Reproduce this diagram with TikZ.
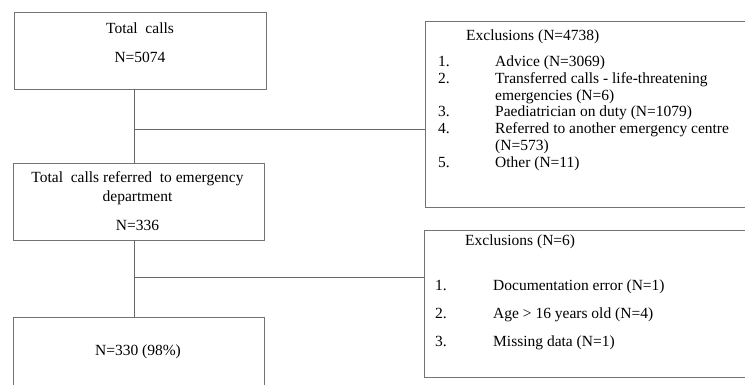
\documentclass[tikz,border=0pt]{standalone}
\usepackage{fontspec}
\setmainfont{Liberation Serif}
\begin{document}
\begin{tikzpicture}[x=1pt,y=-1pt,
  box/.style={draw=black!55,line width=0.9pt,rectangle,inner sep=0pt},
  conn/.style={draw=black!60,line width=0.9pt},
  txt/.style={inner sep=0pt,text=black,font=\fontsize{15.5}{17}\selectfont},
  lft/.style={txt,anchor=base west},
  ctr/.style={txt,anchor=base}]
\useasboundingbox (0,0) rectangle (745,385);
\clip (0,0) rectangle (745,385);
% boxes
\node[box,minimum width=252pt,minimum height=77pt] (b1) at (140,50.5) {};
\node[box,minimum width=251pt,minimum height=77pt] (b2) at (138.5,201.5) {};
\node[box,minimum width=335pt,minimum height=186pt] (b3) at (592.5,114) {};
\node[box,minimum width=336pt,minimum height=147pt] (b4) at (592,303.5) {};
\node[box,minimum width=251pt,minimum height=83pt] (b5) at (138.5,358.5) {};
% junctions
\coordinate (j1) at (134,129);
\coordinate (j2) at (134,277);
\draw[conn] (b1.south -| j1) -- (b2.north -| j1);
\draw[conn] (j1) -- (j1 -| b3.west);
\draw[conn] (b2.south -| j2) -- (b5.north -| j2);
\draw[conn] (j2) -- (j2 -| b4.west);
% box 1 text
\node[ctr] (t1a) at (140,33.3) {Total\ \ calls};
\node[ctr] (t1b) at (140,63) {N=5074};
% box 2 text
\node[ctr] (t2a) at (137.5,183) {Total\ \ calls referred\ \ to emergency};
\node[ctr] (t2b) at (137.5,201.7) {department};
\node[ctr] (t2c) at (137.5,230) {N=336};
% box 5 text
\node[ctr] (t5) at (138,355) {N=330 (98\%)};
% box 3 text
\node[lft] (t3) at (466,40.7) {Exclusions (N=4738)};
\node[lft] (n31) at (438,66.5) {1.};
\node[lft] (i31) at (495,66.5) {Advice (N=3069)};
\node[lft] (n32) at (438,83.3) {2.};
\node[lft] (i32) at (495,83.3) {Transferred calls - life-threatening};
\node[lft] (i32b) at (495,100.1) {emergencies (N=6)};
\node[lft] (n33) at (438,116.9) {3.};
\node[lft] (i33) at (495,116.9) {Paediatrician on duty (N=1079)};
\node[lft] (n34) at (438,133.7) {4.};
\node[lft] (i34) at (495,133.7) {Referred to another emergency centre};
\node[lft] (i34b) at (495,150.5) {(N=573)};
\node[lft] (n35) at (438,167.3) {5.};
\node[lft] (i35) at (495,167.3) {Other (N=11)};
% box 4 text
\node[lft] (t4) at (465,245) {Exclusions (N=6)};
\node[lft] (n41) at (435,290) {1.};
\node[lft] (i41) at (493,290) {Documentation error (N=1)};
\node[lft] (n42) at (435,318.3) {2.};
\node[lft] (i42) at (493,318.3) {Age > 16 years old (N=4)};
\node[lft] (n43) at (435,346.7) {3.};
\node[lft] (i43) at (493,346.7) {Missing data (N=1)};
\end{tikzpicture}
\end{document}
